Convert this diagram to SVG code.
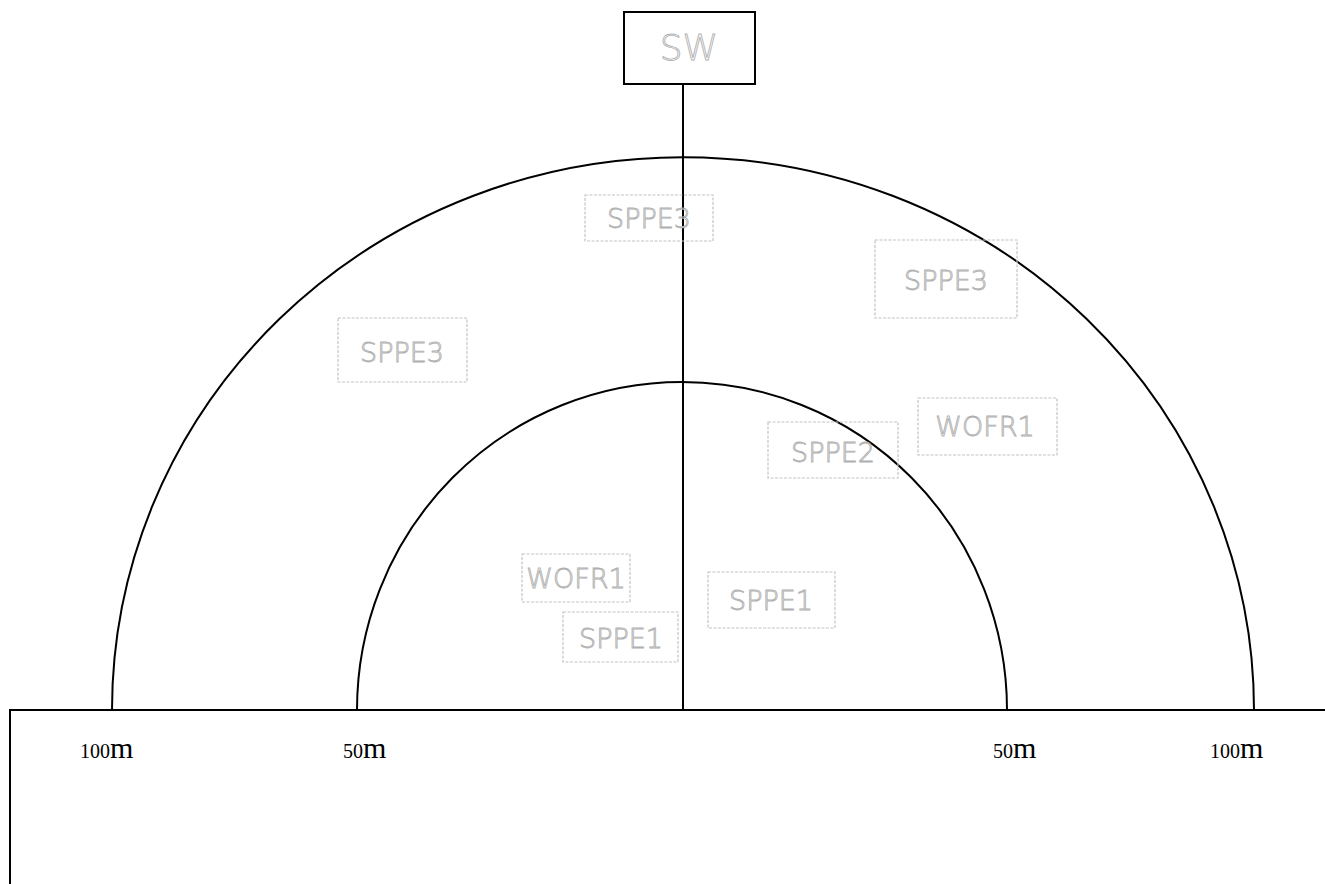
<svg xmlns="http://www.w3.org/2000/svg" width="1325" height="884" viewBox="0 0 1325 884">
<style>
.ln{fill:none;stroke:#000;stroke-width:2}
.hb{fill:none;stroke:#c4c4c4;stroke-width:1.2;stroke-dasharray:3 1.5}
.ht{font-family:"DejaVu Sans",sans-serif;font-size:27px;fill:none;stroke:#b0b0b0;stroke-width:0.9;font-weight:300}
.lbl{font-family:"Liberation Serif",serif;fill:#000}
</style>
<rect width="1325" height="884" fill="#fff"/>
<g id="connectors">
<path class="ln" d="M112 710 A571 553 0 0 1 1254 710"/>
<path class="ln" d="M357 710 A325 328 0 0 1 1007 710"/>
<line class="ln" x1="683" y1="84" x2="683" y2="710"/>
<polyline class="ln" points="10,884 10,710 1325,710"/>
</g>
<g id="sw">
<rect x="624" y="12" width="131" height="72" fill="#fff" stroke="#000" stroke-width="2"/>
<text class="ht" x="689" y="60" text-anchor="middle" style="font-size:36px">SW</text>
</g>
<g id="n1"><rect class="hb" x="585" y="195" width="128" height="46"/><text class="ht" x="649" y="228" text-anchor="middle">SPPE3</text></g>
<g id="n2"><rect class="hb" x="875" y="240" width="142" height="78"/><text class="ht" x="946" y="290" text-anchor="middle">SPPE3</text></g>
<g id="n3"><rect class="hb" x="338" y="318" width="129" height="64"/><text class="ht" x="402" y="362" text-anchor="middle">SPPE3</text></g>
<g id="n4"><rect class="hb" x="768" y="422" width="130" height="56"/><text class="ht" x="833" y="462" text-anchor="middle">SPPE2</text></g>
<g id="n5"><rect class="hb" x="918" y="398" width="139" height="57"/><text class="ht" x="985" y="436" text-anchor="middle">WOFR1</text></g>
<g id="n6"><rect class="hb" x="522" y="554" width="108" height="48"/><text class="ht" x="576" y="588" text-anchor="middle">WOFR1</text></g>
<g id="n7"><rect class="hb" x="563" y="612" width="115" height="50"/><text class="ht" x="621" y="648" text-anchor="middle">SPPE1</text></g>
<g id="n8"><rect class="hb" x="708" y="572" width="127" height="56"/><text class="ht" x="771" y="610" text-anchor="middle">SPPE1</text></g>
<g id="labels">
<text class="lbl" x="80" y="758"><tspan font-size="20">100</tspan><tspan font-size="30">m</tspan></text>
<text class="lbl" x="343" y="758"><tspan font-size="20">50</tspan><tspan font-size="30">m</tspan></text>
<text class="lbl" x="993" y="758"><tspan font-size="20">50</tspan><tspan font-size="30">m</tspan></text>
<text class="lbl" x="1210" y="758"><tspan font-size="20">100</tspan><tspan font-size="30">m</tspan></text>
</g>
</svg>
